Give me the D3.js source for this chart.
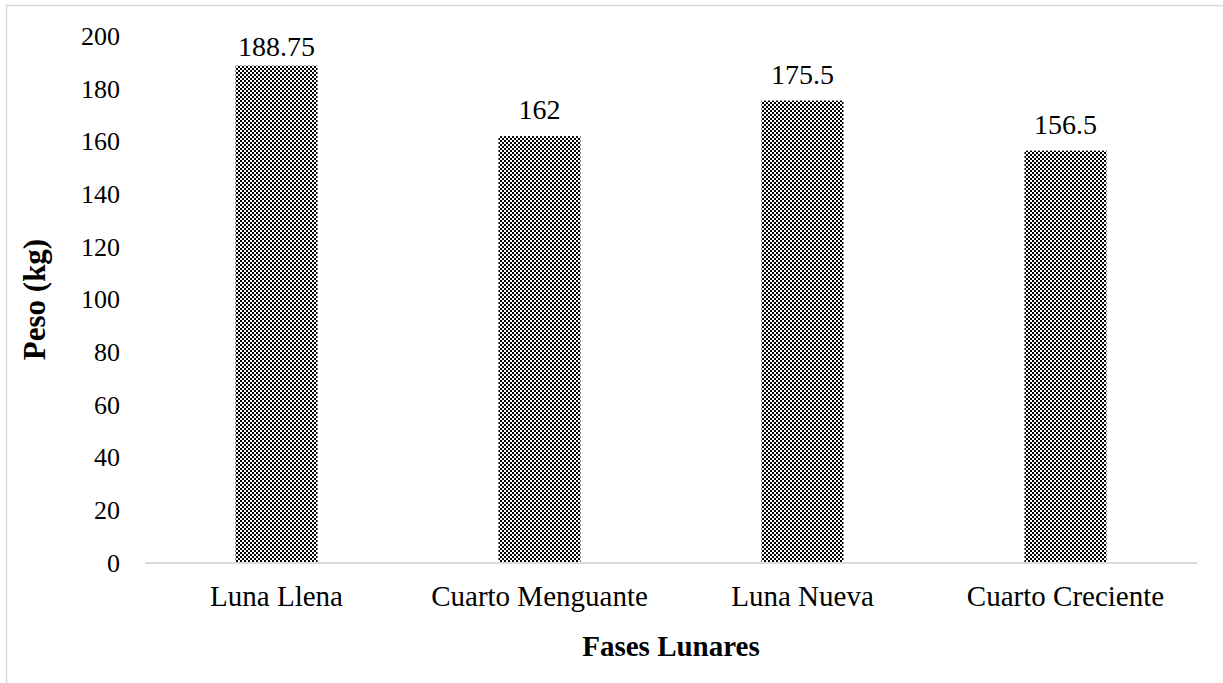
<!DOCTYPE html>
<html>
<head>
<meta charset="utf-8">
<script src="https://cdn.jsdelivr.net/npm/d3@7"></script>
<style>
  html, body { margin: 0; padding: 0; background: #fff; }
  svg { display: block; font-family: "Liberation Serif", "Times New Roman", serif; }
</style>
</head>
<body>
<svg id="chart" width="1223" height="683"></svg>
<script>
// Average weight per lunar phase
const phases = ["Luna Llena", "Cuarto Menguante", "Luna Nueva", "Cuarto Creciente"];
const weights = [188.75, 162, 175.5, 156.5];
const yTicks = [0, 20, 40, 60, 80, 100, 120, 140, 160, 180, 200];

const svg = d3.select("#chart");
const W = 1223, H = 683;
const m = { left: 145, right: 26, top: 36, bottom: 120 };
const FONT = "Liberation Serif, Times New Roman, serif";

// Outer frame (continues past the right and bottom edges)
svg.append("rect")
  .attr("x", 6.5).attr("y", 5.5)
  .attr("width", 1240).attr("height", 720)
  .attr("fill", "none").attr("stroke", "#d9d9d9").attr("stroke-width", 1.5);

// Checkerboard fill for the bars
const defs = svg.append("defs");
const pat = defs.append("pattern")
  .attr("id", "checker").attr("patternUnits", "userSpaceOnUse")
  .attr("width", 4).attr("height", 4);
pat.append("rect").attr("width", 4).attr("height", 4).attr("fill", "#fff");
pat.append("rect").attr("x", 0).attr("y", 0).attr("width", 2).attr("height", 2).attr("fill", "#000");
pat.append("rect").attr("x", 2).attr("y", 2).attr("width", 2).attr("height", 2).attr("fill", "#000");

const x = d3.scaleBand()
  .domain(phases)
  .range([m.left, W - m.right])
  .paddingInner(0.688)
  .paddingOuter(0.344);

const y = d3.scaleLinear()
  .domain([0, 200])
  .range([H - m.bottom, m.top]);

// Y axis labels (no axis line, no gridlines)
const yAxis = d3.axisLeft(y).tickValues(yTicks).tickSize(0).tickPadding(25);
const gy = svg.append("g").attr("transform", `translate(${m.left},0)`).call(yAxis);
gy.select(".domain").remove();
gy.selectAll("text").attr("font-size", 26).attr("fill", "#000")
  .attr("font-family", FONT);

// Bars
svg.append("g").selectAll("rect")
  .data(phases)
  .join("rect")
  .attr("x", d => x(d))
  .attr("y", (d, i) => y(weights[i]))
  .attr("width", x.bandwidth())
  .attr("height", (d, i) => y(0) - y(weights[i]))
  .attr("fill", "url(#checker)");

// X axis
const xAxis = d3.axisBottom(x).tickSize(0).tickPadding(0);
const gx = svg.append("g").attr("transform", `translate(0,${y(0)})`).call(xAxis);
gx.select(".domain").attr("stroke", "#d9d9d9").attr("stroke-width", 2)
  .attr("d", `M${m.left},0H${W - m.right}`);
gx.selectAll("text").attr("font-size", 29).attr("fill", "#000")
  .attr("font-family", FONT).attr("y", 43).attr("dy", null);

// Value labels, kept inside the top of the plot area
svg.append("g").selectAll("text")
  .data(phases)
  .join("text")
  .attr("x", d => x(d) + x.bandwidth() / 2)
  .attr("y", (d, i) => Math.max(y(weights[i]) - 17, m.top + 20))
  .attr("text-anchor", "middle")
  .attr("font-size", 28)
  .attr("fill", "#000")
  .text((d, i) => weights[i]);

// Axis titles
svg.append("text")
  .attr("x", (m.left + W - m.right) / 2)
  .attr("y", 656)
  .attr("text-anchor", "middle")
  .attr("font-size", 29).attr("font-weight", "bold")
  .text("Fases Lunares");

svg.append("text")
  .attr("transform", `translate(45,${(y(0) + y(200)) / 2}) rotate(-90)`)
  .attr("text-anchor", "middle")
  .attr("font-size", 31).attr("font-weight", "bold")
  .text("Peso (kg)");
</script>
</body>
</html>
